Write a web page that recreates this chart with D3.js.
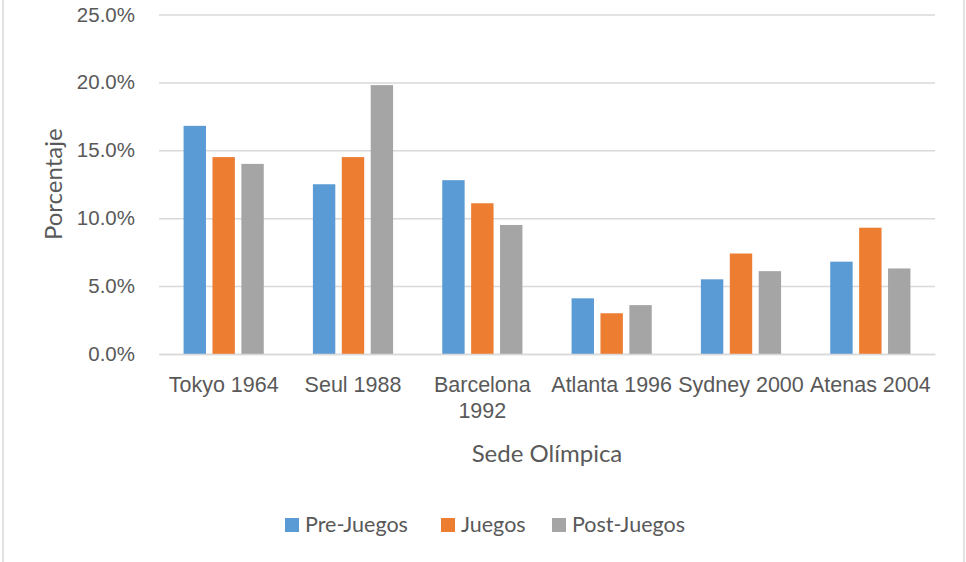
<!DOCTYPE html>
<html>
<head>
<meta charset="utf-8">
<script src="https://cdn.jsdelivr.net/npm/d3@7/dist/d3.min.js"></script>
<style>
  html, body { margin: 0; padding: 0; background: #fff; }
  svg { display: block; font-family: Lato, "Open Sans", sans-serif; }
</style>
</head>
<body>
<div id="chart"></div>
<script>
// data
var categories = ['Tokyo 1964', 'Seul 1988', 'Barcelona 1992', 'Atlanta 1996', 'Sydney 2000', 'Atenas 2004'];
var seriesNames = ['Pre-Juegos', 'Juegos', 'Post-Juegos'];
var preJuegos  = [16.8, 12.5, 12.8, 4.1, 5.5, 6.8];
var juegos     = [14.5, 14.5, 11.1, 3.0, 7.4, 9.3];
var postJuegos = [14.0, 19.8, 9.5, 3.6, 6.1, 6.3];
var yTicks = [0, 5, 10, 15, 20, 25];
var colors = ['#5b9bd5', '#ed7d31', '#a5a5a5'];

var W = 966, H = 562;
var margin = { top: 14.5, left: 159, right: 31, bottom: 208 };
var txt = '#595959', grid = '#d9d9d9';

var svg = d3.select('#chart').append('svg').attr('width', W).attr('height', H);

// chart frame
svg.append('rect').attr('x', 3).attr('y', -5).attr('width', 961).attr('height', H + 10)
  .attr('fill', 'none').attr('stroke', grid).attr('stroke-width', 1.5);

var rows = categories.map(function (c, i) {
  return { cat: c, vals: [preJuegos[i], juegos[i], postJuegos[i]] };
});

var x0 = d3.scaleBand().domain(categories).range([margin.left, W - margin.right]);
var groupW = x0.step() * 0.62;
var x1 = d3.scaleBand().domain(seriesNames).range([0, groupW]).paddingInner(0.225);
var y = d3.scaleLinear().domain([0, 25]).range([H - margin.bottom, margin.top]);

// gridlines + tick labels
var yAxis = svg.append('g').attr('transform', 'translate(' + margin.left + ',0)')
  .call(d3.axisLeft(y).tickValues(yTicks).tickSize(-(W - margin.right - margin.left)).tickPadding(24)
    .tickFormat(function (d) { return d.toFixed(1) + '%'; }));
yAxis.select('.domain').remove();
yAxis.selectAll('.tick line').attr('stroke', grid).attr('stroke-width', 1.5);
yAxis.selectAll('.tick text').attr('fill', txt).style('font-size', '20.5px').attr('font-family', null);

// bars
var groups = svg.append('g').selectAll('g').data(rows).join('g')
  .attr('transform', function (d) { return 'translate(' + (x0(d.cat) + (x0.bandwidth() - groupW) / 2) + ',0)'; });
groups.selectAll('rect').data(function (d) { return d.vals; }).join('rect')
  .attr('x', function (v, i) { return x1(seriesNames[i]); })
  .attr('width', x1.bandwidth())
  .attr('y', function (v) { return y(v); })
  .attr('height', function (v) { return y(0) - y(v); })
  .attr('fill', function (v, i) { return colors[i]; });

// category axis
var xAxis = svg.append('g').attr('transform', 'translate(0,' + y(0) + ')')
  .call(d3.axisBottom(x0).tickSize(0).tickPadding(23));
xAxis.select('.domain').attr('stroke', grid).attr('stroke-width', 1.5);
xAxis.selectAll('.tick text').attr('fill', txt).style('font-size', '21.5px').attr('font-family', null)
  .each(function (d) {
    var t = d3.select(this);
    if (this.getComputedTextLength() > x0.step() - 2) {
      var parts = d.split(' ');
      t.text(null);
      parts.forEach(function (p, i) {
        t.append('tspan').attr('x', 0).attr('dy', i === 0 ? '0.71em' : '1.2em').text(p);
      });
      t.attr('dy', null);
    }
  });

// axis titles
svg.append('text').attr('transform', 'translate(62,' + (y(12.5)) + ') rotate(-90)')
  .attr('text-anchor', 'middle').attr('fill', txt).style('font-size', '24px').text('Porcentaje');
svg.append('text').attr('x', (margin.left + W - margin.right) / 2).attr('y', 462)
  .attr('text-anchor', 'middle').attr('fill', txt).style('font-size', '24px').text('Sede Olímpica');

// legend
var legendX = [285, 441, 552];
var legend = svg.append('g').selectAll('g').data(seriesNames).join('g')
  .attr('transform', function (d, i) { return 'translate(' + legendX[i] + ',518)'; });
legend.append('rect').attr('width', 14).attr('height', 14).attr('fill', function (d, i) { return colors[i]; });
legend.append('text').attr('x', 20).attr('y', 14).attr('fill', txt).style('font-size', '21.5px').text(function (d) { return d; });
</script>
</body>
</html>
